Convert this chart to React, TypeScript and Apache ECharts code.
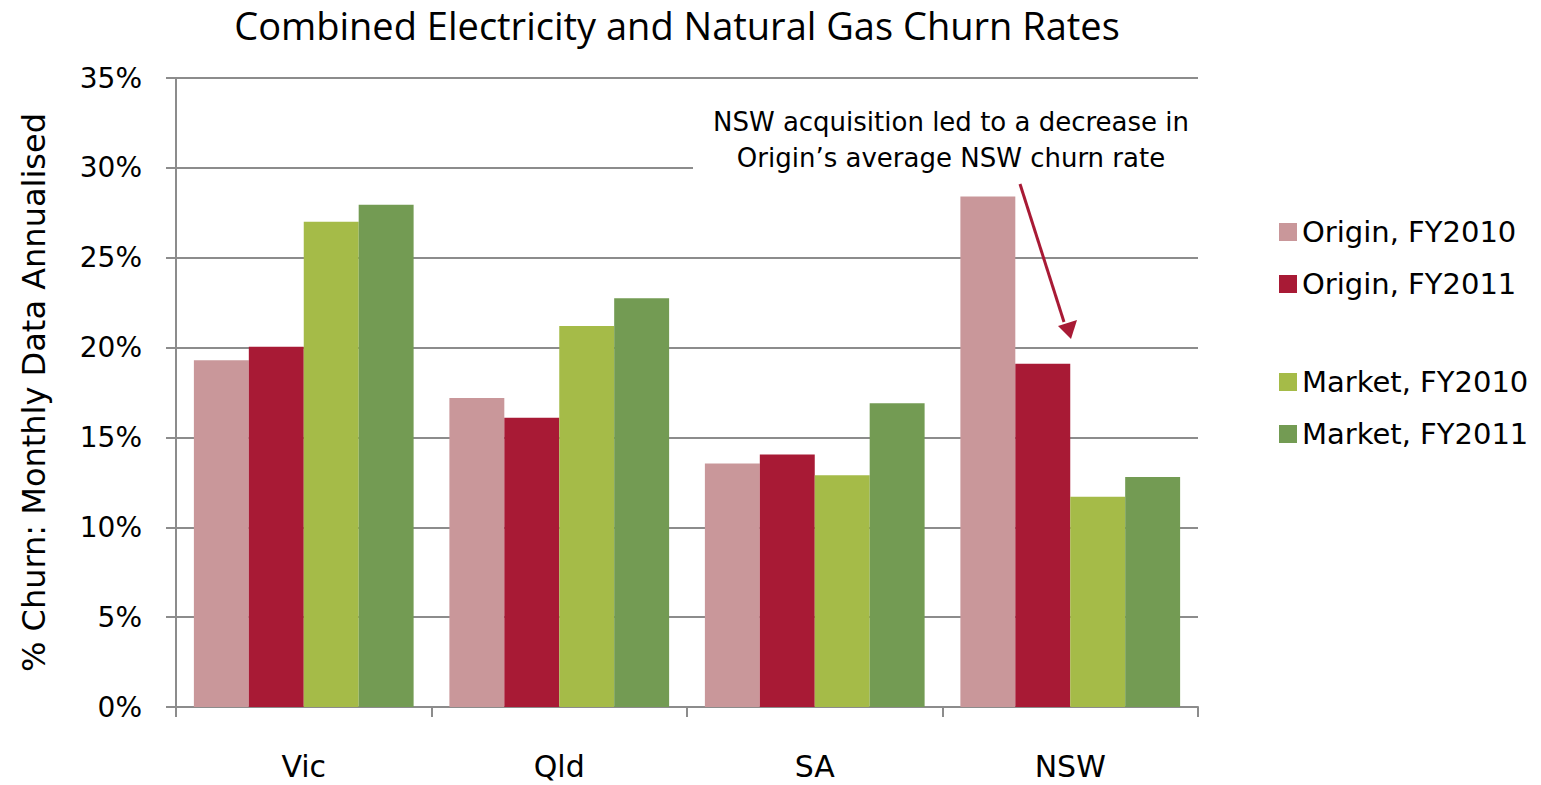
import React, { useEffect, useRef } from "react";
import * as echarts from "echarts";

const categories = ["Vic", "Qld", "SA", "NSW"];
const seriesNames = ["Origin, FY2010", "Origin, FY2011", "Market, FY2010", "Market, FY2011"];
const originFY2010 = [19.3, 17.2, 13.55, 28.4];
const originFY2011 = [20.05, 16.1, 14.05, 19.1];
const marketFY2010 = [27.0, 21.2, 12.9, 11.7];
const marketFY2011 = [27.95, 22.75, 16.9, 12.8];
const seriesColors = ["#c9979a", "#a81a35", "#a5bb48", "#739b53"];
const titleText = "Combined Electricity and Natural Gas Churn Rates";
const yAxisName = "% Churn: Monthly Data Annualised";
const annotationLines = ["NSW acquisition led to a decrease in", "Origin\u2019s average NSW churn rate"];

const FONT = "DejaVu Sans";
const TITLE_FONT = "Open Sans";

export default function App() {
  const ref = useRef<HTMLDivElement>(null);
  useEffect(() => {
    if (!ref.current) return;
    const chart = echarts.init(ref.current, undefined, { renderer: "svg" });
    const values = [originFY2010, originFY2011, marketFY2010, marketFY2011];
    const gray = "#8c8c8c";
    const legendText = { fontSize: 29, color: "#000", fontFamily: FONT, lineHeight: 30 };
    chart.setOption({
      animation: false,
      backgroundColor: "#ffffff",
      textStyle: { fontFamily: FONT },
      grid: { left: 176, right: 343, top: 78, bottom: 78, containLabel: false },
      legend: [
        {
          data: seriesNames.slice(0, 2),
          orient: "vertical",
          left: 1274,
          top: 212,
          itemWidth: 18,
          itemHeight: 18,
          itemGap: 22,
          icon: "rect",
          textStyle: legendText,
        },
        {
          data: seriesNames.slice(2, 4),
          orient: "vertical",
          left: 1274,
          top: 362,
          itemWidth: 18,
          itemHeight: 18,
          itemGap: 22,
          icon: "rect",
          textStyle: legendText,
        },
      ],
      xAxis: {
        type: "category",
        data: categories,
        axisLine: { lineStyle: { color: gray, width: 2 } },
        axisTick: { show: true, length: 10, lineStyle: { color: gray, width: 2 } },
        axisLabel: { fontSize: 30, color: "#000", margin: 44, fontFamily: FONT },
      },
      yAxis: {
        type: "value",
        min: 0,
        max: 35,
        interval: 5,
        name: yAxisName,
        nameLocation: "middle",
        nameGap: 126,
        nameTextStyle: { fontSize: 32, color: "#000", fontFamily: FONT },
        axisLine: { show: true, lineStyle: { color: gray, width: 2 } },
        axisTick: { show: true, length: 10, lineStyle: { color: gray, width: 2 } },
        axisLabel: { formatter: "{value}%", fontSize: 28, color: "#000", margin: 34, fontFamily: FONT },
        splitLine: { lineStyle: { color: gray, width: 2 } },
      },
      series: seriesNames.map((name, i) => ({
        name,
        type: "bar",
        data: values[i],
        barGap: "0%",
        barCategoryGap: "14%",
        itemStyle: { color: seriesColors[i] },
      })),
      graphic: [
        {
          type: "rect",
          shape: { x: 693, y: 98, width: 506, height: 82 },
          style: { fill: "#ffffff" },
          z: 100,
        },
        {
          type: "text",
          x: 951,
          y: 122,
          z: 101,
          style: {
            text: annotationLines[0],
            fontSize: 26,
            fontFamily: FONT,
            fill: "#000",
            textAlign: "center",
            textVerticalAlign: "middle",
          },
        },
        {
          type: "text",
          x: 951,
          y: 158,
          z: 101,
          style: {
            text: annotationLines[1],
            fontSize: 26,
            fontFamily: FONT,
            fill: "#000",
            textAlign: "center",
            textVerticalAlign: "middle",
          },
        },
        {
          type: "line",
          shape: { x1: 1020, y1: 184, x2: 1064, y2: 322 },
          style: { stroke: "#a81a35", lineWidth: 3 },
          z: 101,
        },
        {
          type: "polygon",
          shape: { points: [[1058, 326], [1077, 320], [1071, 339]] },
          style: { fill: "#a81a35" },
          z: 101,
        },
        {
          type: "text",
          x: 677,
          y: 25,
          z: 101,
          style: {
            text: titleText,
            fontSize: 38,
            fontFamily: TITLE_FONT,
            fill: "#000",
            textAlign: "center",
            textVerticalAlign: "middle",
          },
        },
      ],
    });
    return () => chart.dispose();
  }, []);
  return <div ref={ref} style={{ width: 1541, height: 785, position: "absolute", left: 0, top: 0 }} />;
}
